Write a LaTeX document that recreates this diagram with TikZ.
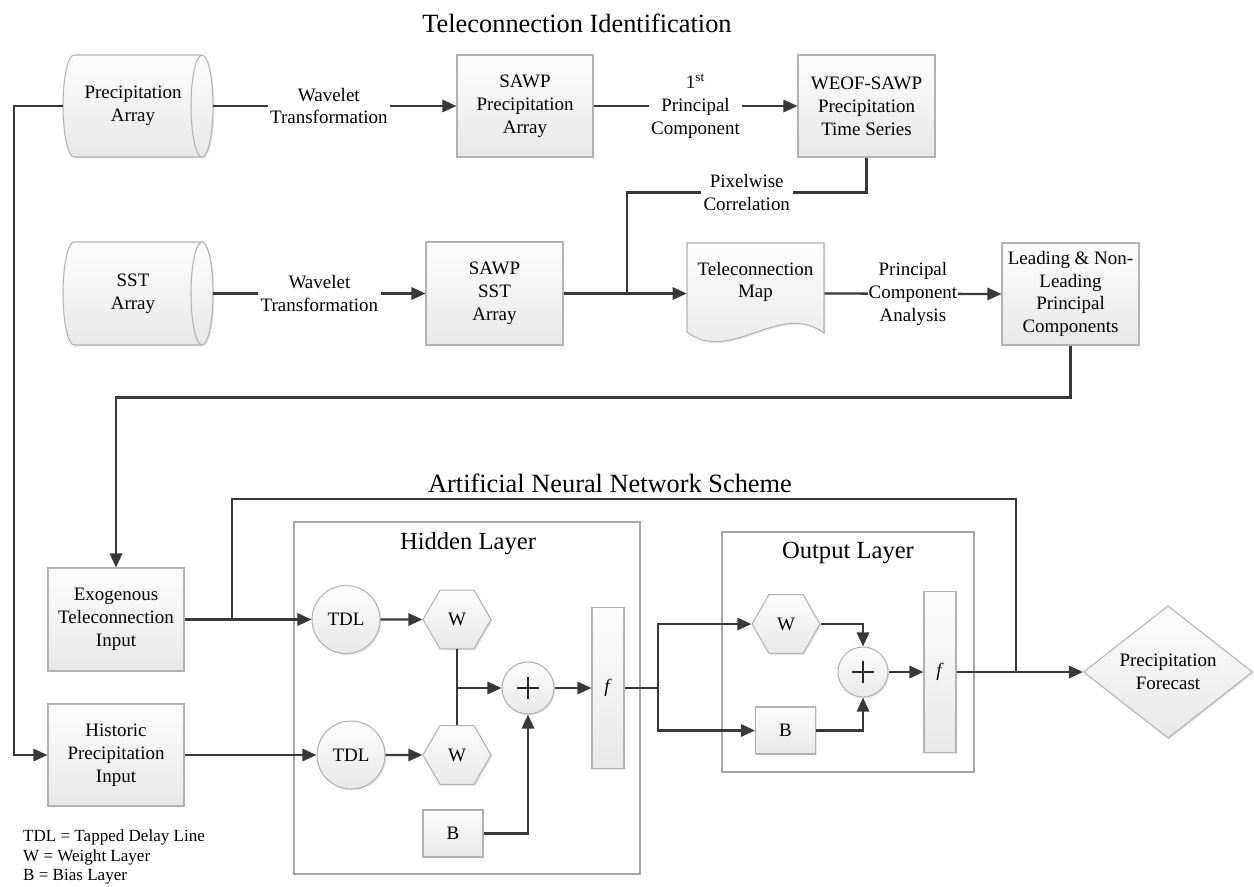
\documentclass[tikz,border=0pt]{standalone}
\usepackage{fontspec}
\setmainfont{Liberation Serif}
\usetikzlibrary{arrows.meta,shapes.geometric,shadows}
\newcommand\pxl[1]{#1*0.02cm}
\begin{document}
\begin{tikzpicture}[x=0.02cm,y=-0.02cm,
  every node/.style={font=\fontsize{10.8}{13}\selectfont},
  conn/.style={draw=black!78, line width=1.3pt},
  arr/.style={conn,-{Triangle[length=8pt,width=7pt]}},
  shadedbox/.style={draw=black!30, line width=0.6pt, top color=black!1, bottom color=black!9,
    drop shadow={opacity=0.2,shadow xshift=0.8pt,shadow yshift=-0.8pt}},
  procbox/.style={shadedbox, rectangle, align=center, inner sep=1pt},
  ghost/.style={rectangle, align=center, inner sep=0pt},
  lbl/.style={fill=white, align=center, inner sep=1.5pt},
  hexa/.style={shadedbox, regular polygon, regular polygon sides=6, minimum size=\pxl{68}, inner sep=0pt},
  circ/.style={shadedbox, circle, minimum size=\pxl{68}, inner sep=0pt},
  sumc/.style={shadedbox, circle, minimum size=\pxl{52}, inner sep=0pt,
    path picture={\draw[line width=1pt,black!85] (path picture bounding box.center) ++(-0.22cm,0) -- ++(0.44cm,0)
      (path picture bounding box.center) ++(0,-0.22cm) -- ++(0,0.44cm);}},
  fbar/.style={procbox, minimum width=\pxl{32}, minimum height=\pxl{161}, inner sep=0pt},
  bbox/.style={procbox, minimum width=\pxl{60}, minimum height=\pxl{47}},
  layer/.style={draw=black!35, line width=0.6pt, rectangle, inner sep=0pt},
  title/.style={font=\fontsize{15}{18}\selectfont},
  ltitle/.style={font=\fontsize{14}{17}\selectfont}
]
\useasboundingbox (0,0) rectangle (1254,886);

% ---------- titles
\node[title] (t1) at (577,23) {Teleconnection Identification};
\node[title] (t2) at (610,483) {Artificial Neural Network Scheme};

% ---------- cylinders
\path[shadedbox] (74,55) -- (202,55) arc[start angle=90,end angle=-90,x radius=0.22cm,y radius=1.02cm]
  -- (74,157) arc[start angle=270,end angle=90,x radius=0.22cm,y radius=1.02cm] -- cycle;
\draw[draw=black!30, line width=0.6pt] (202,55) arc[start angle=90,end angle=270,x radius=0.22cm,y radius=1.02cm];
\node[ghost, minimum width=\pxl{150}, minimum height=\pxl{102}] (pa) at (138,106) {\hspace*{-0.2cm}Precipitation\\\hspace*{-0.2cm}Array};

\path[shadedbox] (74,242) -- (202,242) arc[start angle=90,end angle=-90,x radius=0.22cm,y radius=1.03cm]
  -- (74,345) arc[start angle=270,end angle=90,x radius=0.22cm,y radius=1.03cm] -- cycle;
\draw[draw=black!30, line width=0.6pt] (202,242) arc[start angle=90,end angle=270,x radius=0.22cm,y radius=1.03cm];
\node[ghost, minimum width=\pxl{150}, minimum height=\pxl{103}] (sst) at (138,293.5) {\hspace*{-0.2cm}SST\\\hspace*{-0.2cm}Array};

% ---------- top boxes
\node[procbox, minimum width=\pxl{136}, minimum height=\pxl{102}] (sp) at (525,106) {SAWP\\Precipitation\\Array};
\node[procbox, minimum width=\pxl{137}, minimum height=\pxl{102}] (weof) at (866.5,106) {WEOF-SAWP\\Precipitation\\Time Series};
\node[procbox, minimum width=\pxl{137}, minimum height=\pxl{103}] (ss) at (494.5,293.5) {SAWP\\SST\\Array};

% teleconnection map (document shape)
\path[shadedbox] (687,243) -- (824,243) -- (824,333) .. controls (780,300) and (730,365) .. (687,332) -- cycle;
\node[ghost, minimum width=\pxl{137}] (tm) at (755.5,282) {Teleconnection\\Map};

\node[procbox, minimum width=\pxl{137}, minimum height=\pxl{102}] (lead) at (1070.5,294) {Leading \& Non-\\Leading\\Principal\\Components};

% ---------- inputs
\node[procbox, minimum width=\pxl{136}, minimum height=\pxl{103}] (exo) at (116,619.5) {Exogenous\\Teleconnection\\Input};
\node[procbox, minimum width=\pxl{136}, minimum height=\pxl{102}] (hist) at (116,755) {Historic\\Precipitation\\Input};

% ---------- layers
\node[layer, minimum width=\pxl{346}, minimum height=\pxl{352}] (hl) at (467,698) {};
\node[layer, minimum width=\pxl{252}, minimum height=\pxl{240}] (ol) at (848,652) {};
\node[ltitle] (hlt) at (468,544) {Hidden Layer};
\node[ltitle] (olt) at (848,553) {Output Layer};

% hidden layer nodes
\node[circ] (tdl1) at (346,619.5) {TDL};
\node[hexa] (w1) at (457,619.5) {W};
\node[circ] (tdl2) at (351,755) {TDL};
\node[hexa] (w2) at (457,755) {W};
\node[sumc] (sum1) at (528,688) {};
\node[fbar] (f1) at (608,688) {\textit{f}};
\node[bbox] (b1) at (453,833.5) {B};

% output layer nodes
\node[hexa] (w3) at (786,624) {W};
\node[bbox] (b2) at (785.5,730.5) {B};
\node[sumc, minimum size=\pxl{50}] (sum2) at (863,672) {};
\node[fbar] (f2) at (940,672) {\textit{f}};

% forecast
\node[shadedbox, diamond, minimum width=\pxl{169}, minimum height=\pxl{128}, inner sep=0pt, align=center] (fc) at (1168,672) {Precipitation\\Forecast};

% legend
\node[anchor=west, align=left, font=\fontsize{9.7}{11}\selectfont] (legend) at (17,857) {TDL = Tapped Delay Line\\W = Weight Layer\\B = Bias Layer};

% ---------- coordinates
\coordinate (jc) at (627,293.5);
\coordinate (ja) at (232,619.5);
\coordinate (jb) at (1016,672);
\coordinate (js) at (658,688);
\coordinate (jw) at (457,688);

% ---------- connectors (top part)
\draw[arr] (pa.east) -- node[lbl,pos=0.475]{Wavelet\\Transformation} (sp.west);
\draw[arr] (sp.east) -- node[lbl,pos=0.5]{1\textsuperscript{st}\\Principal\\Component} (weof.west);
\draw[arr] (sst.east) -- node[lbl,pos=0.5]{Wavelet\\Transformation} (ss.west);
\draw[conn] (weof.south) -- ++(0,35) -| node[lbl,pos=0.25]{Pixelwise\\Correlation} (jc);
\draw[arr] (ss.east) -- (ss.east -| tm.west);
\draw[arr] (tm.east |- ss.east) -- node[lbl,inner sep=0.5pt,pos=0.5]{Principal\\Component\\Analysis} (lead.west);
\draw[arr] (lead.south) -- ++(0,52) -| (exo.north);
\draw[arr] (pa.west) -- ++(-49,0) |- (hist.west);

% ---------- ANN connectors
\draw[arr] (exo.east) -- (tdl1.west);
\draw[arr] (hist.east) -- (tdl2.west);
\draw[arr] (tdl1.east) -- (w1.west);
\draw[arr] (tdl2.east) -- (w2.west);
\draw[conn] (w1.south) -- (w2.north);
\draw[arr] (jw) -- (sum1.west);
\draw[arr] (b1.east) -| (sum1.south);
\draw[arr] (sum1.east) -- (f1.west);
\draw[conn] (f1.east) -- (js);
\draw[arr] (js) |- (w3.west);
\draw[arr] (js) |- (b2.west);
\draw[arr] (w3.east) -| (sum2.north);
\draw[arr] (b2.east) -| (sum2.south);
\draw[arr] (sum2.east) -- (f2.west);
\draw[arr] (f2.east) -- (fc.west);
\draw[conn] (ja) -- ++(0,-120.5) -| (jb);
\end{tikzpicture}
\end{document}
